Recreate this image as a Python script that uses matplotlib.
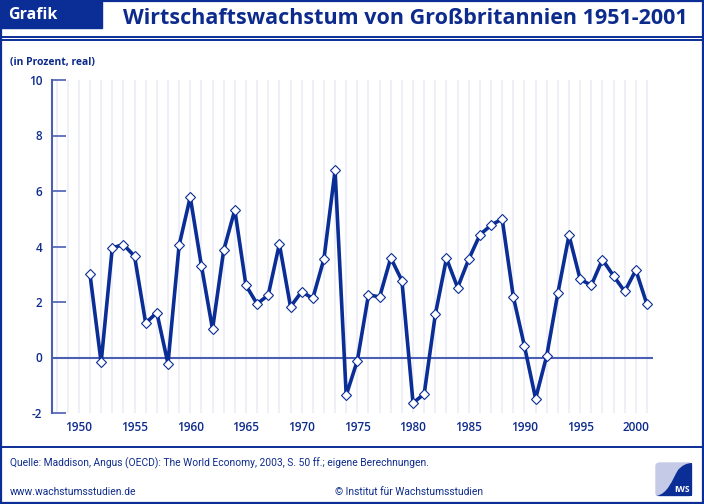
import matplotlib
matplotlib.use("Agg")
import matplotlib.pyplot as plt
from matplotlib.patches import Rectangle, FancyBboxPatch, PathPatch
from matplotlib.path import Path
from matplotlib.lines import Line2D

plt.rcParams["axes.unicode_minus"] = False

# GDP growth, United Kingdom (percent, real)
years = list(range(1951, 2002))
growth = [3.00, -0.18, 3.95, 4.07, 3.65, 1.24, 1.62, -0.22, 4.04, 5.78,
          3.31, 1.02, 3.86, 5.32, 2.60, 1.93, 2.25, 4.09, 1.83, 2.37,
          2.13, 3.55, 6.74, -1.36, -0.11, 2.26, 2.18, 3.59, 2.77, -1.64,
          -1.31, 1.55, 3.57, 2.52, 3.54, 4.42, 4.77, 4.99, 2.19, 0.41,
          -1.48, 0.06, 2.32, 4.40, 2.82, 2.60, 3.53, 2.94, 2.38, 3.15,
          1.91]
grid_years = list(range(1948, 2002))
xtick_years = [1950, 1955, 1960, 1965, 1970, 1975, 1980, 1985, 1990, 1995, 2000]
ytick_vals = [-2, 0, 2, 4, 6, 8, 10]

W, H = 704, 504
BLUE = "#0b2d96"
TEXT = "#0d2b8c"
AXBLUE = "#4a5fb4"
FONT = "Open Sans"
SMALL = "Roboto"


def fx(x):
    return x / W


def fy(y):
    return 1 - y / H


fig = plt.figure(figsize=(W / 100, H / 100), dpi=100)

# frames
fig.add_artist(Rectangle((fx(1), fy(503)), fx(702), 502 / H, fill=False,
                         ec=BLUE, lw=1.6, transform=fig.transFigure))
for yy in (36.5, 39.5, 447):
    fig.add_artist(Line2D([fx(1), fx(703)], [fy(yy), fy(yy)], color=BLUE,
                          lw=1.4, transform=fig.transFigure))
fig.add_artist(Rectangle((fx(0), fy(28)), fx(102), 28 / H, color=BLUE,
                         transform=fig.transFigure))
fig.text(fx(8), fy(15), "Grafik", color="white", fontsize=11.5,
         fontweight="bold", family=FONT, va="center", ha="left")
fig.text(fx(405), fy(19), "Wirtschaftswachstum von Großbritannien 1951-2001",
         color=TEXT, fontsize=15.5, fontweight="bold", family=FONT,
         va="center", ha="center")
fig.text(fx(10), fy(62), "(in Prozent, real)", color=TEXT, fontsize=7.5,
         fontweight="bold", family=FONT, va="center", ha="left")

# footer
fig.text(fx(10), fy(463), "Quelle: Maddison, Angus (OECD): The World Economy, "
         "2003, S. 50 ff.; eigene Berechnungen.", color=TEXT, fontsize=7.4,
         family=SMALL, va="center", ha="left")
fig.text(fx(10), fy(492), "www.wachstumsstudien.de", color=TEXT, fontsize=7.4,
         family=SMALL, va="center", ha="left")
fig.text(fx(483), fy(492), "© Institut für Wachstumsstudien", color=TEXT,
         fontsize=7.4, family=SMALL, va="center", ha="right")

# logo
fig.add_artist(FancyBboxPatch((fx(656), fy(496)), fx(36), 33 / H,
                              boxstyle="round,pad=0,rounding_size=0.006",
                              color="#c5cae6", transform=fig.transFigure))
verts = [(656, 496), (668, 494), (672, 480), (678, 470), (684, 463),
         (692, 463), (692, 496), (656, 496)]
codes = [Path.MOVETO, Path.CURVE4, Path.CURVE4, Path.CURVE4, Path.CURVE3,
         Path.CURVE3, Path.LINETO, Path.CLOSEPOLY]
fig.add_artist(PathPatch(Path([(fx(a), fy(b)) for a, b in verts], codes),
                         color=BLUE, lw=0, transform=fig.transFigure))
fig.text(fx(682), fy(489), "IWS", color="white", fontsize=6,
         fontweight="bold", family=FONT, va="center", ha="center")

# chart
ax = fig.add_axes([fx(52), fy(413), (653 - 52) / W, (413 - 80) / H])
for gy in grid_years:
    ax.axvline(gy, color="#ececf6", lw=1.2, zorder=0)
ax.axhline(0, color=AXBLUE, lw=1.5, zorder=1)
ax.plot(years, growth, color=BLUE, lw=2.6, marker="D", markersize=5.5,
        markerfacecolor="white", markeredgecolor=BLUE, markeredgewidth=0.8,
        zorder=3)

ax.set_xlim(1947.59, 2001.54)
ax.set_ylim(-2, 10)
ax.set_yticks(ytick_vals)
ax.set_xticks(xtick_years)
for s in ("top", "right", "bottom"):
    ax.spines[s].set_visible(False)
ax.spines["left"].set_color(AXBLUE)
ax.spines["left"].set_linewidth(1.5)
ax.tick_params(axis="y", direction="in", length=10, width=1.2,
               color=AXBLUE, pad=7, labelsize=8.5, labelcolor=TEXT)
ax.tick_params(axis="x", length=0, pad=6, labelsize=8.5, labelcolor=TEXT)
for lab in ax.get_xticklabels() + ax.get_yticklabels():
    lab.set_fontfamily(FONT)
    lab.set_fontweight("semibold")

fig.savefig("out.png", dpi=100)
